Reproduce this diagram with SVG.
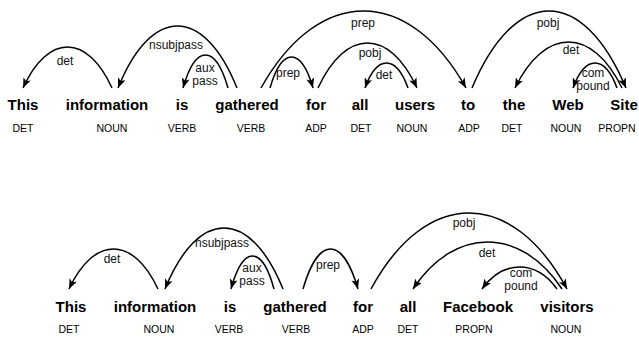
<svg xmlns="http://www.w3.org/2000/svg" width="639" height="337" viewBox="0 0 639 337">
<style>
text{font-family:"Liberation Sans",Arial,sans-serif;fill:#000;text-anchor:middle}
.w{font-size:15px;font-weight:bold}
.p{font-size:10.5px}
.l{font-size:12px;fill:#111}
.a{fill:none;stroke:#000;stroke-width:1.5;marker-end:url(#ah)}
</style>
<defs>
<marker id="ah" markerUnits="userSpaceOnUse" markerWidth="11" markerHeight="8" refX="10" refY="4" orient="auto" viewBox="0 0 11 8">
<path d="M0,0 L10,4 L0,8 L2.5,4 z" fill="#000"/>
</marker>
</defs>
<rect width="639" height="337" fill="#fff"/>
<g id="s1">
<g id="n1-this"><text class="w" x="23" y="110">This</text><text class="p" x="23" y="132">DET</text></g>
<g id="n1-information"><text class="w" x="107" y="110">information</text><text class="p" x="112" y="132">NOUN</text></g>
<g id="n1-is"><text class="w" x="182" y="110">is</text><text class="p" x="182" y="132">VERB</text></g>
<g id="n1-gathered"><text class="w" x="247" y="110">gathered</text><text class="p" x="251" y="132">VERB</text></g>
<g id="n1-for"><text class="w" x="316" y="110">for</text><text class="p" x="316" y="132">ADP</text></g>
<g id="n1-all"><text class="w" x="360" y="110">all</text><text class="p" x="361" y="132">DET</text></g>
<g id="n1-users"><text class="w" x="415" y="110">users</text><text class="p" x="412" y="132">NOUN</text></g>
<g id="n1-to"><text class="w" x="468" y="110">to</text><text class="p" x="469" y="132">ADP</text></g>
<g id="n1-the"><text class="w" x="514" y="110">the</text><text class="p" x="512" y="132">DET</text></g>
<g id="n1-web"><text class="w" x="568" y="110">Web</text><text class="p" x="566" y="132">NOUN</text></g>
<g id="n1-site"><text class="w" x="624" y="110">Site</text><text class="p" x="617" y="132">PROPN</text></g>
</g>
<g id="s2">
<g id="n2-this"><text class="w" x="71" y="311.5">This</text><text class="p" x="69" y="333">DET</text></g>
<g id="n2-information"><text class="w" x="155" y="311.5">information</text><text class="p" x="159" y="333">NOUN</text></g>
<g id="n2-is"><text class="w" x="230" y="311.5">is</text><text class="p" x="229" y="333">VERB</text></g>
<g id="n2-gathered"><text class="w" x="295" y="311.5">gathered</text><text class="p" x="296" y="333">VERB</text></g>
<g id="n2-for"><text class="w" x="363" y="311.5">for</text><text class="p" x="363" y="333">ADP</text></g>
<g id="n2-all"><text class="w" x="408" y="311.5">all</text><text class="p" x="408" y="333">DET</text></g>
<g id="n2-facebook"><text class="w" x="478" y="311.5">Facebook</text><text class="p" x="474" y="333">PROPN</text></g>
<g id="n2-visitors"><text class="w" x="567" y="311.5">visitors</text><text class="p" x="566" y="333">NOUN</text></g>
</g>
<g id="connectors">
<g><path class="a" d="M112,88 C87.1,33.3 47.9,33.3 23,88"/><text class="l" x="65" y="65">det</text></g>
<g><path class="a" d="M237,88 C203.7,5.3 151.3,5.3 118,88"/><text class="l" x="176" y="49">nsubjpass</text></g>
<g><path class="a" d="M228,88 C215.4,44 195.6,44 183,88"/><text class="l" x="205" y="72">aux</text><text class="l" x="205" y="85">pass</text></g>
<g><path class="a" d="M270,88 C282,46.7 301,46.7 313,88"/><text class="l" x="288" y="77">prep</text></g>
<g><path class="a" d="M261,88 C318.4,-14.7 408.6,-14.7 466,88"/><text class="l" x="363" y="27">prep</text></g>
<g><path class="a" d="M318,88 C345.7,28 389.3,28 417,88"/><text class="l" x="370" y="57">pobj</text></g>
<g><path class="a" d="M408,88 C396,54.7 377,54.7 365,88"/><text class="l" x="384" y="79">det</text></g>
<g><path class="a" d="M472,88 C515.1,-14.7 582.9,-14.7 626,88"/><text class="l" x="548" y="27">pobj</text></g>
<g><path class="a" d="M622,88 C592,26.7 545,26.7 515,88"/><text class="l" x="571" y="54">det</text></g>
<g><path class="a" d="M617,88 C604.7,54.7 585.3,54.7 573,88"/><text class="l" x="593" y="77">com</text><text class="l" x="593" y="90">pound</text></g>
<g><path class="a" d="M158,289 C133.1,235.7 93.9,235.7 69,289"/><text class="l" x="112" y="263">det</text></g>
<g><path class="a" d="M283,289 C250,207.7 198,207.7 165,289"/><text class="l" x="222" y="247">nsubjpass</text></g>
<g><path class="a" d="M274,289 C262,245 243,245 231,289"/><text class="l" x="252" y="272">aux</text><text class="l" x="252" y="285">pass</text></g>
<g><path class="a" d="M303,289 C318.4,235.7 342.6,235.7 358,289"/><text class="l" x="328" y="269">prep</text></g>
<g><path class="a" d="M371,289 C425.9,187.7 512.1,187.7 567,289"/><text class="l" x="464" y="227">pobj</text></g>
<g><path class="a" d="M562,289 C520.3,226.3 454.7,226.3 413,289"/><text class="l" x="487" y="257">det</text></g>
<g><path class="a" d="M557,289 C536,259.7 503,259.7 482,289"/><text class="l" x="521" y="277">com</text><text class="l" x="521" y="290">pound</text></g>
</g>
</svg>
